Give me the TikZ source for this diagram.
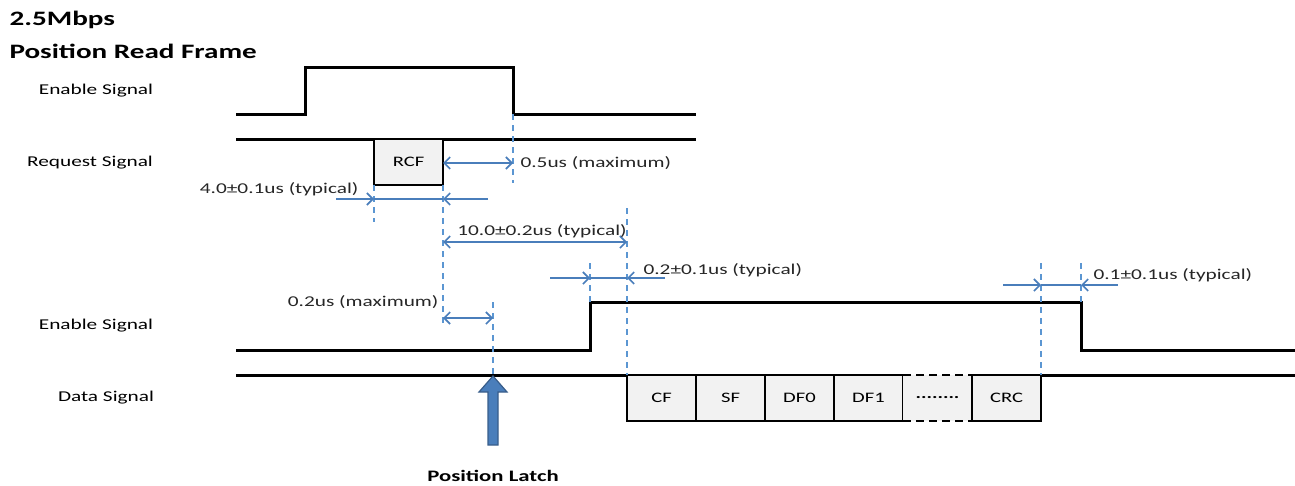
\documentclass[tikz,border=0pt]{standalone}
\usepackage{fontspec}
\setmainfont{Carlito}[FakeStretch=1.42]
\usetikzlibrary{positioning,arrows.meta}
\definecolor{dimblue}{RGB}{74,126,187}
\definecolor{guideblue}{RGB}{91,150,210}
\definecolor{boxgray}{RGB}{242,242,242}
\definecolor{latchedge}{RGB}{56,93,138}

\begin{document}
\begin{tikzpicture}[%
x=1pt,y=-1pt,%
wave/.style={line width=3pt,black},%
guide/.style={guideblue,line width=1.8pt,dash pattern=on 6pt off 5pt},%
dim/.style={dimblue,line width=1.6pt},%
dimarr/.style={dim,-{Straight Barb[length=6pt,width=12pt]}},%
dimboth/.style={dim,{Straight Barb[length=6pt,width=12pt]}-{Straight Barb[length=6pt,width=12pt]}},%
fieldbox/.style={draw,line width=2.6pt,fill=boxgray,minimum width=69pt,minimum height=46pt,inner sep=0pt,outer sep=0pt,font=\fontsize{14.5}{14.5}\selectfont},%
lbl/.style={font=\fontsize{15}{15}\selectfont},%
dimlbl/.style={font=\fontsize{15}{15}\selectfont,text=black!85},%
title/.style={anchor=west,font=\bfseries\fontsize{20.5}{20.5}\selectfont},%
  ]
    \useasboundingbox (0,0) rectangle (1295,485);

    % titles and row labels
    \node[title] (rate) at (6,20) {2.5Mbps};
    \node[title] (frametitle) at (6,51) {Position Read Frame};
    \node[lbl] (en1) at (96,91) {Enable Signal};
    \node[lbl] (req) at (90,163) {Request Signal};
    \node[lbl] (en2) at (96,326) {Enable Signal};
    \node[lbl] (dat) at (106,398) {Data Signal};

    % waveforms
    \draw[wave] (236,114) -- (305,114) -- (305,67) -- (513,67) -- (513,114) -- (696,114);
    \draw[wave] (236,139) -- (696,139);
    \draw[wave] (236,350) -- (590,350) -- (590,302) -- (1081,302) -- (1081,350) -- (1295,350);
    \draw[wave] (236,375) -- (627,375);
    \draw[wave] (1041,375) -- (1295,375);

    \node[fieldbox,anchor=north west] (rcf) at (374,139) {RCF};

    \node[fieldbox,anchor=north west] (cf) at (627,375) {CF};
    \node[fieldbox,right=0pt of cf] (sf) {SF};
    \node[fieldbox,right=0pt of sf] (df0) {DF0};
    \node[fieldbox,right=0pt of df0] (df1) {DF1};
    \node[fieldbox,draw=none,right=0pt of df1] (more) {\textbf{........}};
    \node[fieldbox,right=0pt of more] (crc) {CRC};
    \draw[line width=2.6pt,dash pattern=on 8pt off 5pt] (more.north west) -- (more.north east);
    \draw[line width=2.6pt,dash pattern=on 8pt off 5pt] (more.south west) -- (more.south east);

    % time marks
    \coordinate (t1) at (374,199);
    \coordinate (t2) at (443,199);
    \coordinate (t3) at (513,163);
    \coordinate (t4) at (627,242);
    \coordinate (t5) at (590,278);
    \coordinate (t6) at (493,318);
    \coordinate (t7) at (1041,285);
    \coordinate (t8) at (1081,285);

    \draw[guide] (513,114) -- (513,183);
    \draw[guide] (rcf.south west) -- (374,222);
    \draw[guide] (rcf.south east) -- (443,325);
    \draw[guide] (627,208) -- (cf.north west);
    \draw[guide] (590,263) -- (590,302);
    \draw[guide] (493,302) -- (493,375);
    \draw[guide] (1041,263) -- (crc.north east);
    \draw[guide] (1081,263) -- (1081,302);

    % dimensions
    \draw[dimboth] (rcf.east |- t3) -- (t3);
    \node[dimlbl,anchor=west] (lbl05) at (517,163) {0.5us (maximum)};

    \draw[dimarr] (336,199) -- (t1);
    \draw[dim] (t1) -- (t2);
    \draw[dimarr] (488,199) -- (t2);
    \node[dimlbl,anchor=east] (lbl40) at (362,189) {4.0±0.1us (typical)};

    \draw[dimboth] (443,242) -- (t4);
    \node[dimlbl] (lbl100) at (542,231) {10.0±0.2us (typical)};

    \draw[dimarr] (550,278) -- (t5);
    \draw[dim] (t5) -- (627,278);
    \draw[dimarr] (665,278) -- (627,278);
    \node[dimlbl,anchor=west] (lbl02) at (640,270) {0.2±0.1us (typical)};

    \draw[dimboth] (443,318) -- (t6);
    \node[dimlbl,anchor=east] (lbl02m) at (442,302) {0.2us (maximum)};

    \draw[dimarr] (1003,285) -- (t7);
    \draw[dim] (t7) -- (t8);
    \draw[dimarr] (1118,285) -- (t8);
    \node[dimlbl,anchor=west] (lbl01) at (1090,275) {0.1±0.1us (typical)};

    % position latch
    \draw[latchedge,fill=dimblue,line width=1.2pt] (488,445) -- (488,392) -- (479,392) -- (493,376) -- (507,392) -- (498,392) -- (498,445) -- cycle;
    \node[font=\bfseries\fontsize{16}{16}\selectfont] (latch) at (493,476) {Position Latch};
  \end{tikzpicture}
\end{document}
